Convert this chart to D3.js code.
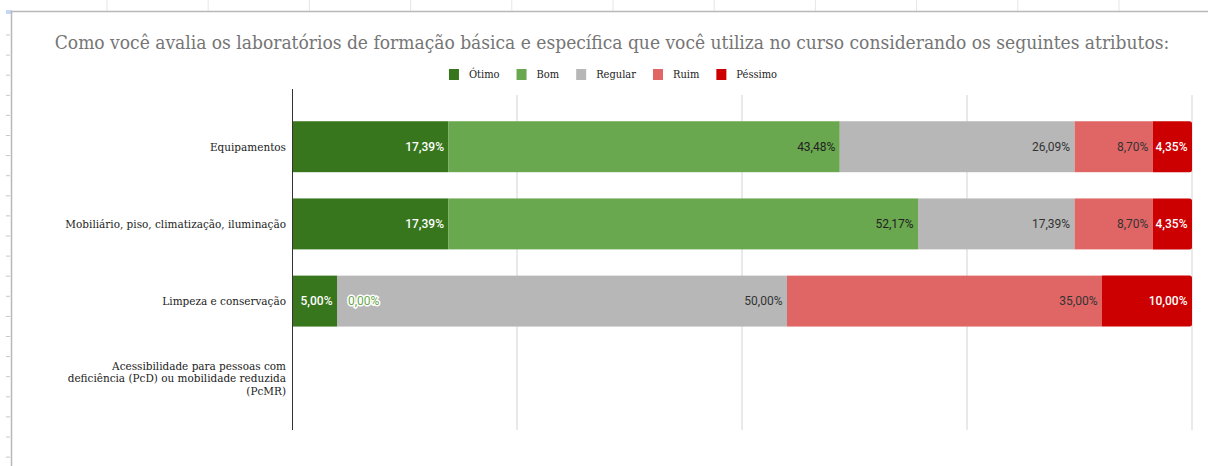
<!DOCTYPE html>
<html>
<head>
<meta charset="utf-8">
<script src="https://cdn.jsdelivr.net/npm/d3@7"></script>
<style>
  html, body { margin: 0; padding: 0; background: #fff; }
  svg { display: block; }
</style>
</head>
<body>
<script>
// chart data
var title = 'Como você avalia os laboratórios de formação básica e específica que você utiliza no curso considerando os seguintes atributos:';
var categories = [
  'Equipamentos',
  'Mobiliário, piso, climatização, iluminação',
  'Limpeza e conservação',
  'Acessibilidade para pessoas com|deficiência (PcD) ou mobilidade reduzida|(PcMR)'
];
var seriesNames = ['Ótimo', 'Bom', 'Regular', 'Ruim', 'Péssimo'];
var otimo   = [17.39, 17.39, 5.00, null];
var bom     = [43.48, 52.17, 0.00, null];
var regular = [26.09, 17.39, 50.00, null];
var ruim    = [8.70, 8.70, 35.00, null];
var pessimo = [4.35, 4.35, 10.00, null];
var xTicks = [0, 25, 50, 75, 100];

var colors = ['#38761d', '#6aa84f', '#b7b7b7', '#e06666', '#cc0000'];
var labelColors = ['#ffffff', '#222222', '#333333', '#333333', '#ffffff'];
var serif = 'DejaVu Serif Condensed, DejaVu Serif, serif';

// grow/shrink a text's font size so it spans a given width
function fitText(sel, targetW) {
  var fs = parseFloat(sel.attr('font-size'));
  var w = sel.node().getComputedTextLength();
  fs = fs * targetW / w;
  sel.attr('font-size', fs);
  return fs;
}

function drawChart() {
  var W = 1208, H = 466;
  var svg = d3.select('body').append('svg')
    .attr('width', W)
    .attr('height', H);

  // spreadsheet frame + ruler marks around the chart
  var frame = svg.append('g');
  for (var x = 107; x < W; x += 101.2) {
    frame.append('line')
      .attr('x1', x).attr('x2', x).attr('y1', 0).attr('y2', 11)
      .attr('stroke', '#e6e6e6').attr('stroke-width', 1);
  }
  for (var y = 35; y < H; y += 20.1) {
    frame.append('line')
      .attr('x1', 6).attr('x2', 10).attr('y1', y).attr('y2', y)
      .attr('stroke', '#c8c8c8').attr('stroke-width', 1);
  }
  frame.append('rect')
    .attr('x', 6).attr('y', 10).attr('width', 6).attr('height', 4)
    .attr('fill', '#c6d6f4');
  frame.append('line')
    .attr('x1', 11).attr('x2', W).attr('y1', 11.5).attr('y2', 11.5)
    .attr('stroke', '#b8b8b8').attr('stroke-width', 1.5);
  frame.append('line')
    .attr('x1', 11.5).attr('x2', 11.5).attr('y1', 11).attr('y2', H)
    .attr('stroke', '#b8b8b8').attr('stroke-width', 1.5);

  // title
  var titleText = svg.append('text')
    .attr('x', 612)
    .attr('y', 49)
    .attr('text-anchor', 'middle')
    .attr('font-family', serif)
    .attr('font-size', 16)
    .attr('fill', '#757575')
    .text(title);
  fitText(titleText, 1115);

  // legend
  var legend = svg.append('g');
  var lx = 0;
  seriesNames.forEach(function (name, i) {
    var g = legend.append('g').attr('transform', 'translate(' + lx + ',0)');
    g.append('rect')
      .attr('x', 0).attr('y', 69).attr('width', 10).attr('height', 11)
      .attr('fill', colors[i]);
    var t = g.append('text')
      .attr('x', 20).attr('y', 78)
      .attr('font-family', serif)
      .attr('font-size', 11)
      .attr('fill', '#222')
      .text(name);
    lx += 20 + t.node().getComputedTextLength() + 17;
  });
  var legendW = lx - 17;
  legend.attr('transform', 'translate(' + (613 - legendW / 2) + ',0)');

  // scales
  var plotLeft = 292, plotRight = 1192, plotTop = 95, plotBottom = 430;
  var xScale = d3.scaleLinear().domain([0, 100]).range([plotLeft, plotRight]);
  var yScale = d3.scaleBand()
    .domain(d3.range(categories.length))
    .range([plotTop, plotBottom])
    .paddingInner(0.34)
    .paddingOuter(0.34);

  // gridlines
  svg.append('g')
    .selectAll('line')
    .data(xTicks.slice(1))
    .enter()
    .append('line')
    .attr('x1', function (d) { return xScale(d); })
    .attr('x2', function (d) { return xScale(d); })
    .attr('y1', plotTop)
    .attr('y2', plotBottom)
    .attr('stroke', '#e2e2e2')
    .attr('stroke-width', 1.5);

  // stack the rows, normalized to 100%
  var allSeries = [otimo, bom, regular, ruim, pessimo];
  var rows = categories.map(function (c, j) {
    var total = d3.sum(allSeries, function (s) { return s[j] || 0; });
    var acc = 0;
    return allSeries.map(function (s, i) {
      var v = s[j];
      var seg = { series: i, row: j, value: v, x0: acc, x1: acc };
      if (v !== null && total > 0) {
        seg.x1 = acc + v / total * 100;
        acc = seg.x1;
      }
      return seg;
    });
  });

  var bars = svg.append('g');
  rows.forEach(function (row) {
    var segs = row.filter(function (s) { return s.value !== null; });
    var last = null;
    segs.forEach(function (s) { if (s.x1 > s.x0) last = s; });
    segs.forEach(function (s) {
      if (s.x1 <= s.x0) return;
      var x0 = xScale(s.x0), x1 = xScale(s.x1);
      var y0 = yScale(s.row), h = yScale.bandwidth();
      if (s === last) {
        var r = 2.5;
        bars.append('path')
          .attr('d', 'M' + x0 + ',' + y0 + 'H' + (x1 - r) +
            'Q' + x1 + ',' + y0 + ' ' + x1 + ',' + (y0 + r) +
            'V' + (y0 + h - r) +
            'Q' + x1 + ',' + (y0 + h) + ' ' + (x1 - r) + ',' + (y0 + h) +
            'H' + x0 + 'Z')
          .attr('fill', colors[s.series]);
      } else {
        bars.append('rect')
          .attr('x', x0).attr('y', y0)
          .attr('width', x1 - x0).attr('height', h)
          .attr('fill', colors[s.series]);
      }
    });
  });

  // data labels
  var labels = svg.append('g')
    .attr('font-family', 'Roboto, sans-serif')
    .attr('font-size', 12);
  rows.forEach(function (row) {
    row.forEach(function (s) {
      if (s.value === null) return;
      var txt = d3.format('.2f')(s.value).replace('.', ',') + '%';
      var cy = yScale(s.row) + yScale.bandwidth() / 2 + 4;
      if (s.x1 > s.x0) {
        labels.append('text')
          .attr('x', xScale(s.x1) - 4.5)
          .attr('y', cy)
          .attr('text-anchor', 'end')
          .attr('fill', labelColors[s.series])
          .attr('font-weight', labelColors[s.series] === '#ffffff' ? 500 : 400)
          .text(txt);
      } else {
        // zero-width segment: label sits just after, with a halo
        labels.append('text')
          .attr('x', xScale(s.x0) + 11)
          .attr('y', cy)
          .attr('fill', colors[s.series])
          .attr('stroke', '#fff')
          .attr('stroke-width', 3)
          .attr('paint-order', 'stroke')
          .text(txt);
      }
    });
  });

  // category axis
  svg.append('line')
    .attr('x1', plotLeft + 0.5).attr('x2', plotLeft + 0.5)
    .attr('y1', 89).attr('y2', plotBottom)
    .attr('stroke', '#333').attr('stroke-width', 1);

  var yLabels = svg.append('g')
    .attr('font-family', serif)
    .attr('font-size', 11)
    .attr('fill', '#222')
    .attr('text-anchor', 'end');
  categories.forEach(function (c, j) {
    var lines = c.split('|');
    var cy = yScale(j) + yScale.bandwidth() / 2;
    var lh = 12.5;
    var t = yLabels.append('text');
    lines.forEach(function (ln, k) {
      t.append('tspan')
        .attr('x', 286)
        .attr('y', cy + 4 + (k - (lines.length - 1) / 2) * lh)
        .text(ln);
    });
  });
  // size category labels so the longest single line spans like the reference
  var probe = yLabels.select('text:nth-child(2)');
  var fs = 11 * 221 / probe.node().getComputedTextLength();
  yLabels.attr('font-size', fs);
}

drawChart();
</script>
</body>
</html>
